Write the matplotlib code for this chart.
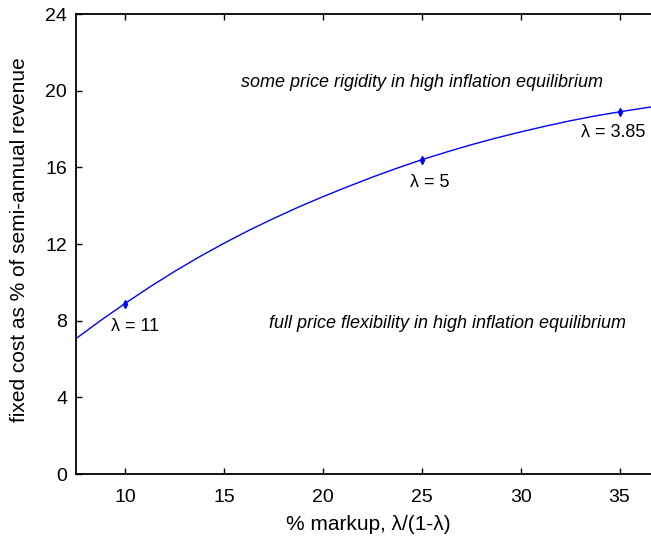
import numpy as np
import matplotlib
matplotlib.use('Agg')
import matplotlib.pyplot as plt

plt.rcParams['font.family'] = ['Liberation Sans', 'DejaVu Sans']

# curve
markup = [7.5, 8.75, 10, 11.25, 12.5, 13.75, 15, 16.25, 17.5, 18.75, 20,
          21.25, 22.5, 23.75, 25, 26.25, 27.5, 28.75, 30, 31.25, 32.5,
          33.75, 35, 36.25, 37]
fixed_cost = [7.05, 8.0, 8.9, 9.76, 10.57, 11.33, 12.04, 12.71, 13.33, 13.92, 14.47,
              14.99, 15.49, 15.96, 16.4, 16.8, 17.18, 17.53, 17.85, 18.15, 18.43,
              18.68, 18.9, 19.1, 19.21]

# marked points and their labels
pt_markup = [10, 25, 35]
pt_cost = [8.9, 16.4, 18.9]
pt_labels = ['\u03bb = 11', '\u03bb = 5', '\u03bb = 3.85']
pt_label_pos = [(10.5, 7.7), (25.4, 15.2), (34.7, 17.8)]

xticks = [10, 15, 20, 25, 30, 35]
yticks = [0, 4, 8, 12, 16, 20, 24]

fig = plt.figure(figsize=(6.51, 5.40), dpi=100)
ax = fig.add_axes([0.116, 0.122, 0.8965, 0.852])

ax.plot(markup, fixed_cost, color='blue', lw=1.0)
ax.plot(pt_markup, pt_cost, ls='none', marker='d', ms=4, color='blue')

for lab, (tx, ty) in zip(pt_labels, pt_label_pos):
    ax.text(tx, ty, lab, ha='center', va='center', fontsize=13)

ax.text(25.0, 20.45, 'some price rigidity in high inflation equilibrium',
        ha='center', va='center', fontsize=13, style='italic')
ax.text(26.3, 7.88, 'full price flexibility in high inflation equilibrium',
        ha='center', va='center', fontsize=13, style='italic')

ax.set_xlim(7.5, 37)
ax.set_ylim(0, 24)
ax.set_xticks(xticks)
ax.set_yticks(yticks)
ax.tick_params(direction='in', length=4, width=1, labelsize=14, top=True, right=False)
ax.tick_params(axis='x', pad=11)
ax.tick_params(axis='y', pad=6)
for s in ax.spines.values():
    s.set_linewidth(1.3)

ax.set_xlabel('% markup, \u03bb/(1-\u03bb)', fontsize=15)
ax.xaxis.set_label_coords((368 - 75.6) / (0.8965 * 651), -0.088)
ax.set_ylabel('fixed cost as % of semi-annual revenue', fontsize=15)
ax.yaxis.set_label_coords(-0.080, 0.51)

fig.savefig('out.png', dpi=100)
